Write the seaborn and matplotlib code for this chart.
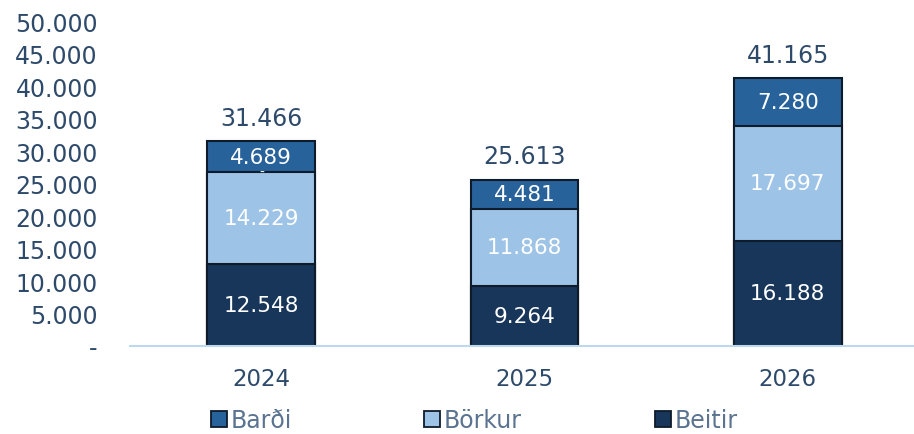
import pandas as pd
import matplotlib
matplotlib.use("Agg")
import matplotlib.pyplot as plt
import seaborn as sns
from matplotlib.ticker import FuncFormatter
from matplotlib.patches import Patch

years = ["2024", "2025", "2026"]
beitir = [12548, 9264, 16188]
borkur = [14229, 11868, 17697]
bardi = [4689, 4481, 7280]

c_bardi = "#28629A"
c_borkur = "#9DC3E6"
c_beitir = "#17365A"
c_edge = "#0E1B2B"
c_text = "#2E4A6B"

sns.set_theme(style="white")
plt.rcParams["font.family"] = ["DejaVu Sans"]

df = pd.DataFrame({"ar": years, "Beitir": beitir, "Börkur": borkur, "Barði": bardi})
df["low2"] = df["Beitir"] + df["Börkur"]
df["total"] = df["low2"] + df["Barði"]

fig = plt.figure(figsize=(9.14, 4.35), dpi=100)
ax = fig.add_axes([0.142, 0.2023, 0.858, 0.7471])

w = 0.41
sns.barplot(data=df, x="ar", y="total", color=c_bardi, saturation=1, width=w,
            edgecolor=c_edge, linewidth=1.5, ax=ax)
sns.barplot(data=df, x="ar", y="low2", color=c_borkur, saturation=1, width=w,
            edgecolor=c_edge, linewidth=1.5, ax=ax)
sns.barplot(data=df, x="ar", y="Beitir", color=c_beitir, saturation=1, width=w,
            edgecolor=c_edge, linewidth=1.5, ax=ax)

fmt = lambda v: f"{int(v):,}".replace(",", ".")
fs_in = 15.5
for i in range(len(years)):
    ax.text(i, beitir[i] / 2, fmt(beitir[i]), ha="center", va="center", color="white", fontsize=fs_in)
    ax.text(i, beitir[i] + borkur[i] / 2, fmt(borkur[i]), ha="center", va="center", color="white", fontsize=fs_in)
    ax.text(i, df["low2"][i] + bardi[i] / 2, fmt(bardi[i]), ha="center", va="center", color="white", fontsize=fs_in)
    ax.text(i, df["total"][i] + 2600, fmt(df["total"][i]), ha="center", va="baseline", color=c_text, fontsize=17)
# small zero label that sits on the 2024 bar
ax.text(0, df["low2"][0], "-", ha="center", va="center", color="white", fontsize=10)

ax.set_ylim(0, 50000)
ax.set_xlim(-0.5, 2.48)
ax.set_yticks(range(0, 50001, 5000))
ax.yaxis.set_major_formatter(FuncFormatter(lambda v, p: "-" if v == 0 else fmt(v)))
ax.tick_params(axis="both", colors=c_text, length=0)
ax.tick_params(axis="y", pad=23, labelsize=17)
ax.tick_params(axis="x", pad=15, labelsize=16.5)
ax.set_xlabel("")
ax.set_ylabel("")
for s in ["top", "right", "left"]:
    ax.spines[s].set_visible(False)
ax.spines["bottom"].set_color("#BDD7EE")
ax.spines["bottom"].set_linewidth(1.5)

names = ["Barði", "Börkur", "Beitir"]
cols = [c_bardi, c_borkur, c_beitir]
xs = [0.2309, 0.4639, 0.7166]
for n, c, x in zip(names, cols, xs):
    fig.legend(handles=[Patch(facecolor=c, edgecolor=c_edge, linewidth=1.3, label=n)], loc="center left",
               bbox_to_anchor=(x, 0.032), frameon=False, fontsize=17, labelcolor="#5A7390",
               handlelength=0.68, handleheight=0.68, handletextpad=0.17,
               borderpad=0, borderaxespad=0)

fig.savefig("out.png", dpi=100)
